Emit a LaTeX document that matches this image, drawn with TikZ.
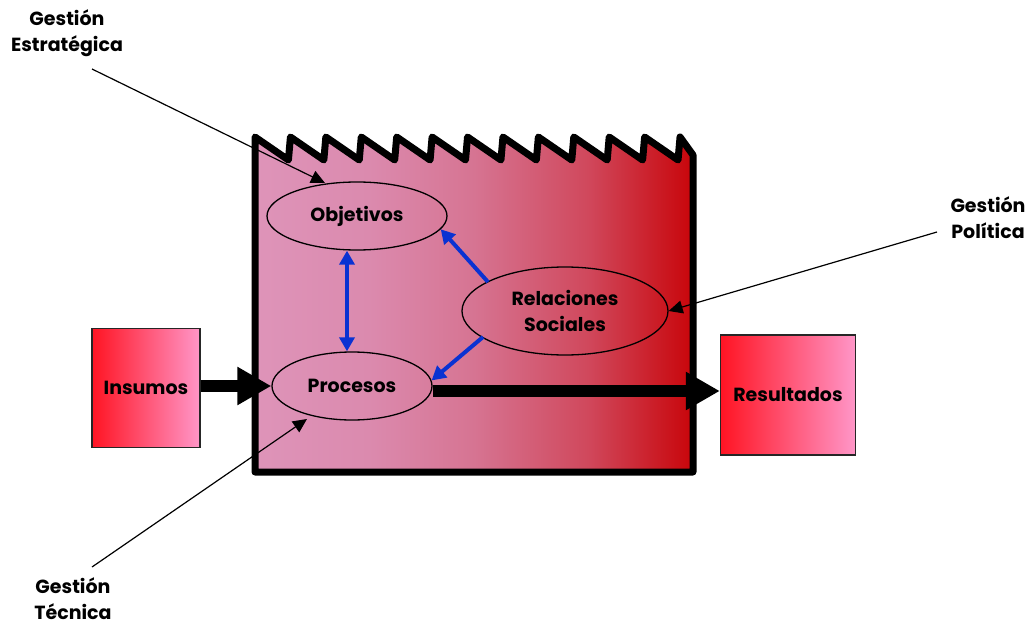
\documentclass[tikz,border=0pt]{standalone}
\usepackage{fontspec}
\setmainfont{Poppins}
\usetikzlibrary{arrows.meta,shapes.geometric}
\definecolor{pinkL}{RGB}{222,148,185}
\definecolor{boxR}{RGB}{255,20,35}
\definecolor{boxP}{RGB}{255,150,200}
\definecolor{arrblue}{RGB}{10,50,210}
\pgfdeclarehorizontalshading{factory}{100bp}{
  color(0bp)=(pinkL);
  color(25bp)=(pinkL);
  color(38bp)=({rgb,255:red,219;green,138;blue,174});
  color(50bp)=({rgb,255:red,214;green,116;blue,146});
  color(63bp)=({rgb,255:red,208;green,72;blue,92});
  color(75bp)=({rgb,255:red,200;green,5;blue,10});
  color(100bp)=({rgb,255:red,200;green,5;blue,10})}
\begin{document}
\begin{tikzpicture}[x=1pt,y=-1pt,
  lbl/.style={font=\bfseries\fontsize{19}{26}\selectfont, align=center, text=black, inner sep=0pt},
  ell/.style={ellipse, draw=black, line width=1.3pt, inner sep=0pt, font=\bfseries\fontsize{19}{26}\selectfont, align=center},
  gbox/.style={draw=black!85, line width=1.3pt, left color=boxR, right color=boxP, font=\bfseries\fontsize{19}{24}\selectfont, inner sep=0pt},
  thinarr/.style={line width=1.2pt, -{Triangle[length=14pt,width=13pt]}},
  bluearr/.style={arrblue, line width=4pt, {Triangle[length=14pt,width=15pt]}-{Triangle[length=14pt,width=15pt]}},
  bluearr1/.style={arrblue, line width=4pt, -{Triangle[length=14pt,width=15pt]}},
  thickarr/.style={line width=12pt, -{Triangle[length=34pt,width=36pt]}}]
\useasboundingbox (0,0) rectangle (1031,626);
% factory box
\shade[shading=factory, draw=black, line width=7pt, line join=round]
  (255,472) -- (255,137)
  \foreach \i in {1,...,12} { -- ({255+35.42*\i-2},160) -- ({255+35.42*\i},137) }
  -- (693,155) -- (693,472) -- cycle;
% ellipses
\node[ell, minimum width=180pt, minimum height=68pt] (obj) at (357,216) {Objetivos};
\node[ell, minimum width=160pt, minimum height=68pt] (proc) at (352,386) {Procesos};
\node[ell, minimum width=206pt, minimum height=88pt] (rel) at (565,311) {Relaciones\\Sociales};
% boxes
\node[gbox, minimum width=108pt, minimum height=119pt] (ins) at (146,388) {Insumos};
\node[gbox, minimum width=135pt, minimum height=120pt] (res) at (788,395) {Resultados};
% thick arrows
\draw[thickarr] (ins.east |- proc.west) -- (proc.west);
\draw[thickarr] (proc.east |- 0,391) -- (res.west |- 0,391);
% blue arrows
\draw[bluearr] (obj.south -| 347,0) -- (proc.north -| 347,0);
\coordinate (r1) at (488,282);
\coordinate (r2) at (483,337);
\draw[bluearr1] (r1) -- (obj.-9);
\draw[bluearr1] (r2) -- (proc.4);
% labels
\node[lbl] (ge) at (67,33) {Gestión\\Estratégica};
\node[lbl] (gp) at (988,218) {Gestión\\Política};
\node[lbl] (gt) at (73,599) {Gestión\\Técnica};
\coordinate (ges) at (92,69);
\coordinate (gps) at (937,232);
\coordinate (gts) at (92,567);
\draw[thinarr] (ges) -- (325,183);
\draw[thinarr] (gps) -- (rel.east);
\draw[thinarr] (gts) -- (307,419);
\end{tikzpicture}
\end{document}
